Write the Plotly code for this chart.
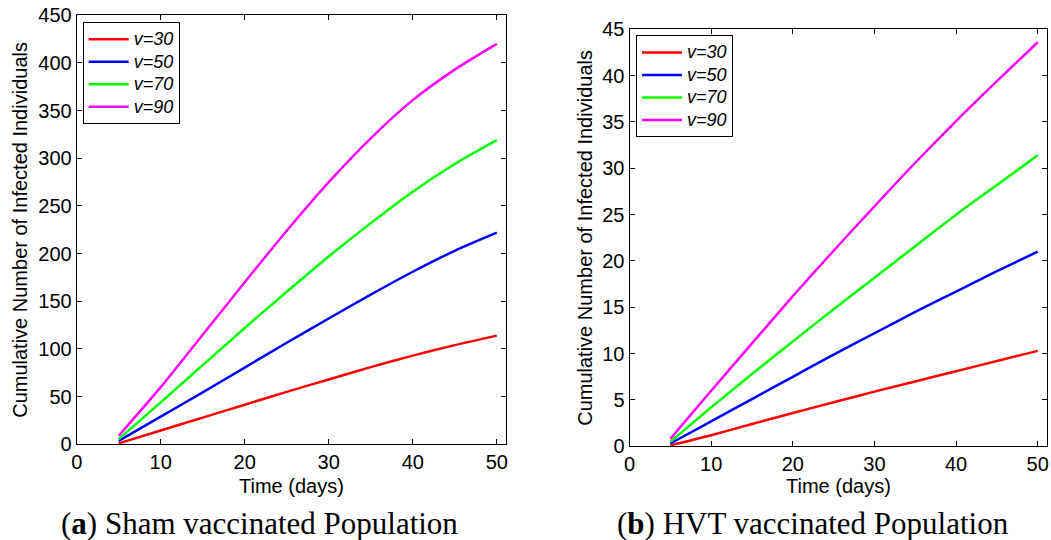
import plotly.graph_objects as go

days = [5, 10, 15, 20, 25, 30, 35, 40, 45, 50]
series_names = ["v=30", "v=50", "v=70", "v=90"]
colors = ["#ff0000", "#0000ff", "#00ff00", "#ff00ff"]

sham_v30 = [1, 14.5, 28, 41.5, 55, 68, 81, 93, 104, 114]
sham_v50 = [3.6, 29, 54.5, 80.5, 106.5, 132, 157, 181, 203, 222]
sham_v70 = [5.4, 44, 83, 122, 160, 197, 232, 265, 294, 319]
sham_v90 = [9, 60, 115, 170, 224, 275, 321, 361, 393, 420]

hvt_v30 = [0.1, 1.2, 2.4, 3.6, 4.75, 5.9, 7.0, 8.1, 9.2, 10.3]
hvt_v50 = [0.3, 2.7, 5.1, 7.5, 9.9, 12.2, 14.5, 16.7, 18.9, 21.0]
hvt_v70 = [0.5, 4.2, 7.8, 11.3, 14.8, 18.2, 21.6, 25.0, 28.2, 31.4]
hvt_v90 = [0.8, 6.0, 11.1, 16.2, 21.1, 25.9, 30.6, 35.1, 39.4, 43.6]

x_ticks = [0, 10, 20, 30, 40, 50]
sham_y_ticks = list(range(0, 451, 50))
hvt_y_ticks = list(range(0, 46, 5))

captions = ["(<b>a</b>) Sham vaccinated Population", "(<b>b</b>) HVT vaccinated Population"]
x_title = "Time (days)"
y_title = "Cumulative Number of Infected Individuals"

W, H = 1051, 540
fig = go.Figure()

sham = [sham_v30, sham_v50, sham_v70, sham_v90]
hvt = [hvt_v30, hvt_v50, hvt_v70, hvt_v90]

def label(name):
    return "<span style='font-size:18px'><i>" + name + "</i></span>"

for name, c, ys in zip(series_names, colors, sham):
    fig.add_trace(go.Scatter(x=days, y=ys, mode="lines", name=label(name),
                             line=dict(color=c, width=2.5, shape="spline", smoothing=0.7),
                             xaxis="x", yaxis="y", legend="legend"))
for name, c, ys in zip(series_names, colors, hvt):
    fig.add_trace(go.Scatter(x=days, y=ys, mode="lines", name=label(name),
                             line=dict(color=c, width=2.5, shape="spline", smoothing=0.7),
                             xaxis="x2", yaxis="y2", legend="legend2"))

SANS = "Liberation Sans, Arial, sans-serif"
tickfont = dict(family=SANS, size=20, color="black")
titlefont = dict(family=SANS, size=20, color="black")

def xaxis(domain, anchor):
    return dict(domain=domain, anchor=anchor, range=[0, 51.1], tickvals=x_ticks,
                ticks="inside", ticklen=5, tickcolor="black", showline=True,
                linecolor="black", linewidth=1, mirror="ticks", showgrid=False,
                zeroline=False, tickfont=tickfont, automargin=False)

def yaxis(domain, anchor, rng, ticks):
    return dict(domain=domain, anchor=anchor, range=rng, tickvals=ticks,
                ticks="inside", ticklen=5, tickcolor="black", showline=True,
                linecolor="black", linewidth=1, mirror="ticks", showgrid=False,
                zeroline=False, tickfont=tickfont, automargin=False)

legend_common = dict(bgcolor="white", bordercolor="black", borderwidth=1,
                     font=dict(family=SANS, size=15, color="black"),
                     xanchor="left", yanchor="top", tracegroupgap=0, itemwidth=40)

L = (76.7, 506.0, 15.3, 444.3)   # left, right, top, bottom (px)
R = (629.5, 1046.7, 29.3, 446.3)

fig.update_layout(
    width=W, height=H, autosize=False,
    margin=dict(l=0, r=0, t=0, b=0),
    paper_bgcolor="white", plot_bgcolor="white",
    xaxis=xaxis([L[0] / W, L[1] / W], "y"),
    yaxis=yaxis([1 - L[3] / H, 1 - L[2] / H], "x", [0, 450], sham_y_ticks),
    xaxis2=xaxis([R[0] / W, R[1] / W], "y2"),
    yaxis2=yaxis([1 - R[3] / H, 1 - R[2] / H], "x2", [0, 45], hvt_y_ticks),
    legend=dict(x=82.7 / W, y=1 - 22 / H, **legend_common),
    legend2=dict(x=636 / W, y=1 - 35.3 / H, **legend_common),
    showlegend=True,
)

# axis titles
for (l, r, t, b), ytx in ((L, 20), (R, 585)):
    fig.add_annotation(text=x_title, x=(l + r) / 2 / W, y=1 - 485.5 / H, xref="paper", yref="paper",
                       showarrow=False, xanchor="center", yanchor="middle", font=titlefont)
    fig.add_annotation(text=y_title, x=ytx / W, y=1 - (t + b) / 2 / H, xref="paper", yref="paper",
                       showarrow=False, xanchor="center", yanchor="middle", textangle=-90, font=titlefont)

cap_font = dict(family="Liberation Serif, DejaVu Serif, serif", size=31, color="black")
fig.add_annotation(text=captions[0], x=259 / W, y=1 - 523 / H, xref="paper", yref="paper",
                   showarrow=False, xanchor="center", yanchor="middle", font=cap_font)
fig.add_annotation(text=captions[1], x=812.5 / W, y=1 - 523 / H, xref="paper", yref="paper",
                   showarrow=False, xanchor="center", yanchor="middle", font=cap_font)

fig.write_html("out.html")
